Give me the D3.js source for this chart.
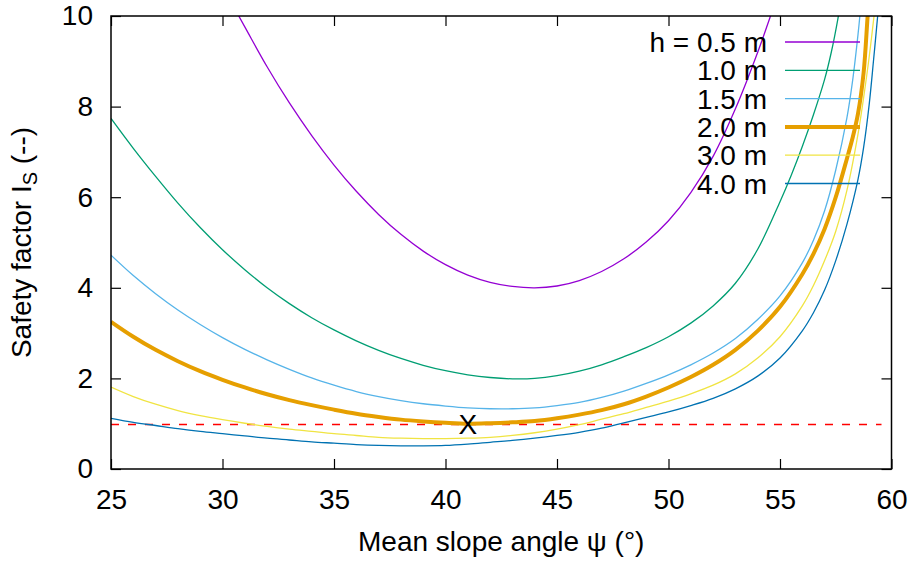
<!DOCTYPE html>
<html>
<head>
<meta charset="utf-8">
<script src="https://cdn.jsdelivr.net/npm/d3@7"></script>
<style>
  body { margin: 0; background: #fff; }
  svg { display: block; font-family: "Liberation Sans", Arial, sans-serif; }
</style>
</head>
<body>
<div id="chart"></div>
<script>
// safety factor curves (psi in degrees, Is dimensionless)
var psiH05 = [30, 31, 32, 33, 34, 35, 36, 37, 38, 39, 40, 41, 42, 43, 44, 45, 46, 47, 48, 49, 50, 51, 52, 53, 54, 54.7, 55.2];
var isH05 = [10.65, 9.76, 8.88, 8.08, 7.36, 6.71, 6.13, 5.62, 5.18, 4.81, 4.51, 4.28, 4.12, 4.03, 4.0, 4.04, 4.16, 4.36, 4.64, 5.01, 5.48, 6.1, 6.9, 7.95, 9.2, 10.18, 10.9];

var psiH10 = [25, 26, 27, 28, 29, 30, 31, 32, 33, 34, 35, 36, 37, 38, 39, 40, 41, 42, 43, 44, 45, 46, 47, 48, 49, 50, 51, 52, 53, 54, 55, 55.5, 56, 56.5, 57, 57.3, 57.6, 57.8];
var isH10 = [7.74, 7.08, 6.46, 5.87, 5.33, 4.84, 4.40, 4.00, 3.65, 3.34, 3.07, 2.83, 2.62, 2.44, 2.29, 2.17, 2.08, 2.02, 1.99, 2.0, 2.06, 2.16, 2.3, 2.48, 2.68, 2.92, 3.22, 3.6, 4.1, 4.85, 5.9, 6.48, 7.12, 7.82, 8.6, 9.2, 9.95, 10.55];

var psiH15 = [25, 26, 27, 28, 29, 30, 31, 32, 33, 34, 35, 36, 37, 38, 39, 40, 41, 42, 43, 44, 45, 46, 47, 48, 49, 50, 51, 52, 53, 54, 55, 56, 56.5, 57, 57.5, 58, 58.25, 58.5, 58.6];
var isH15 = [4.72, 4.27, 3.87, 3.51, 3.19, 2.9, 2.64, 2.41, 2.2, 2.01, 1.85, 1.71, 1.6, 1.51, 1.44, 1.39, 1.35, 1.33, 1.33, 1.35, 1.40, 1.47, 1.58, 1.72, 1.89, 2.08, 2.3, 2.56, 2.88, 3.3, 3.82, 4.55, 5.05, 5.7, 6.6, 7.75, 8.55, 9.6, 10.1];

var psiH20 = [25, 26, 27, 28, 29, 30, 31, 32, 33, 34, 35, 36, 37, 38, 39, 40, 41, 42, 43, 44, 45, 46, 47, 48, 49, 50, 51, 52, 53, 54, 55, 56, 56.5, 57, 57.5, 58, 58.25, 58.5, 58.75, 58.93, 59.05];
var isH20 = [3.25, 2.92, 2.63, 2.38, 2.16, 1.97, 1.80, 1.65, 1.52, 1.41, 1.31, 1.22, 1.15, 1.09, 1.05, 1.02, 1.0, 1.01, 1.03, 1.06, 1.12, 1.2, 1.3, 1.43, 1.6, 1.8, 2.03, 2.3, 2.63, 3.05, 3.58, 4.3, 4.75, 5.3, 6.0, 6.85, 7.3, 7.85, 8.75, 10.0, 10.8];

var psiH30 = [25, 26, 27, 28, 29, 30, 31, 32, 33, 34, 35, 36, 37, 38, 39, 40, 41, 42, 43, 44, 45, 46, 47, 48, 49, 50, 51, 52, 53, 54, 55, 56, 56.5, 57, 57.5, 58, 58.5, 58.75, 59, 59.26, 59.4];
var isH30 = [1.81, 1.6, 1.43, 1.29, 1.18, 1.09, 1.01, 0.94, 0.88, 0.83, 0.78, 0.74, 0.70, 0.68, 0.67, 0.67, 0.68, 0.7, 0.74, 0.8, 0.88, 0.98, 1.1, 1.22, 1.36, 1.5, 1.66, 1.85, 2.1, 2.45, 2.92, 3.6, 4.05, 4.6, 5.25, 6.15, 7.4, 8.2, 9.1, 10.2, 10.9];

var psiH40 = [25, 26, 27, 28, 29, 30, 31, 32, 33, 34, 35, 36, 37, 38, 39, 40, 41, 42, 43, 44, 45, 46, 47, 48, 49, 50, 51, 52, 53, 54, 55, 56, 56.5, 57, 57.5, 58, 58.5, 58.75, 59, 59.2, 59.38, 59.5];
var isH40 = [1.12, 1.03, 0.96, 0.89, 0.83, 0.78, 0.73, 0.68, 0.64, 0.6, 0.57, 0.54, 0.52, 0.51, 0.51, 0.52, 0.55, 0.59, 0.63, 0.68, 0.74, 0.81, 0.9, 1.02, 1.14, 1.26, 1.4, 1.56, 1.77, 2.05, 2.45, 3.05, 3.45, 3.95, 4.6, 5.4, 6.4, 7.1, 8.05, 9.05, 10.0, 10.7];

var seriesLabels = ["h = 0.5 m", "1.0 m", "1.5 m", "2.0 m", "3.0 m", "4.0 m"];
var seriesColors = ["#9400d3", "#009e73", "#56b4e9", "#e69f00", "#f0e442", "#0072b2"];
var seriesWidths = [1.3, 1.3, 1.3, 4, 1.3, 1.3];
var seriesPsi = [psiH05, psiH10, psiH15, psiH20, psiH30, psiH40];
var seriesIs = [isH05, isH10, isH15, isH20, isH30, isH40];

var xTicks = [25, 30, 35, 40, 45, 50, 55, 60];
var yTicks = [0, 2, 4, 6, 8, 10];
var limitIs = 1.0;
var markPoint = { psi: 41, is: 1.0, label: "X" };

var margin = { top: 16, right: 21.5, bottom: 94, left: 111 },
    width = 913 - margin.left - margin.right,
    height = 563 - margin.top - margin.bottom;
var fontSize = 28;

var svg = d3.select("#chart").append("svg")
    .attr("width", 913)
    .attr("height", 563)
    .append("g")
    .attr("transform", "translate(" + margin.left + "," + margin.top + ")");

var x = d3.scaleLinear().domain([25, 60]).range([0, width]);
var y = d3.scaleLinear().domain([0, 10]).range([height, 0]);

svg.append("clipPath").attr("id", "plotClip")
    .append("rect").attr("width", width).attr("height", height);

// axes, ticks pointing inward, mirrored on top and right
var xAxis = d3.axisBottom(x).tickValues(xTicks).tickSizeInner(-10).tickSizeOuter(0).tickPadding(20);
var yAxis = d3.axisLeft(y).tickValues(yTicks).tickSizeInner(-10).tickSizeOuter(0).tickPadding(18);

svg.append("g")
    .attr("class", "x axis")
    .attr("transform", "translate(0," + height + ")")
    .call(xAxis);
svg.append("g")
    .attr("class", "y axis")
    .call(yAxis);
svg.append("g")
    .attr("class", "x2 axis")
    .call(d3.axisTop(x).tickValues(xTicks).tickSizeInner(-10).tickSizeOuter(0).tickFormat(""));
svg.append("g")
    .attr("class", "y2 axis")
    .attr("transform", "translate(" + width + ",0)")
    .call(d3.axisRight(y).tickValues(yTicks).tickSizeInner(-10).tickSizeOuter(0).tickFormat(""));

svg.selectAll(".axis path").remove();
svg.selectAll(".axis line").attr("stroke", "#000").attr("stroke-width", 1.2);
svg.selectAll(".axis text")
    .attr("fill", "#000")
    .style("font-size", fontSize + "px")
    .style("font-family", "'Liberation Sans', Arial, sans-serif");

// threshold line Is = 1
svg.append("line")
    .attr("x1", x(25)).attr("x2", x(60) - 10)
    .attr("y1", Math.round(y(limitIs)) + 0.5).attr("y2", Math.round(y(limitIs)) + 0.5)
    .attr("stroke", "#ff0000")
    .attr("stroke-width", 1.3)
    .attr("stroke-dasharray", "8,9");

var line = d3.line()
    .x(d => x(d[0]))
    .y(d => y(d[1]))
    .curve(d3.curveCatmullRom.alpha(0.5));

var curves = svg.append("g").attr("clip-path", "url(#plotClip)");
seriesPsi.forEach((psi, i) => {
    curves.append("path")
        .datum(psi.map((p, j) => [p, seriesIs[i][j]]))
        .attr("fill", "none")
        .attr("stroke", seriesColors[i])
        .attr("stroke-width", seriesWidths[i])
        .attr("d", line);
});

// marker for h = 2.0 m minimum
svg.append("text")
    .attr("x", x(markPoint.psi))
    .attr("y", y(markPoint.is))
    .attr("dy", "0.36em")
    .attr("text-anchor", "middle")
    .style("font-size", fontSize + "px")
    .text(markPoint.label);

// legend
var legend = svg.append("g").attr("transform", "translate(" + (x(55) - 13) + ",0)");
seriesLabels.forEach((lab, i) => {
    var ly = 26 + i * 28.3;
    legend.append("text")
        .attr("x", 0)
        .attr("y", ly)
        .attr("dy", "0.36em")
        .attr("text-anchor", "end")
        .style("font-size", fontSize + "px")
        .text(lab);
    legend.append("line")
        .attr("x1", 18).attr("x2", 93)
        .attr("y1", ly).attr("y2", ly)
        .attr("stroke", seriesColors[i])
        .attr("stroke-width", seriesWidths[i]);
});

// frame
svg.append("rect")
    .attr("width", width)
    .attr("height", height)
    .attr("fill", "none")
    .attr("stroke", "#000")
    .attr("stroke-width", 1.5);

// axis titles
svg.append("text")
    .attr("x", width / 2)
    .attr("y", height + 82)
    .attr("text-anchor", "middle")
    .style("font-size", fontSize + "px")
    .text("Mean slope angle ψ (°)");

var ylab = svg.append("text")
    .attr("transform", "translate(" + (31 - margin.left) + "," + (height / 2) + ") rotate(-90)")
    .attr("text-anchor", "middle")
    .style("font-size", fontSize + "px");
ylab.append("tspan").text("Safety factor I");
ylab.append("tspan").attr("dy", 6).style("font-size", "20px").text("S");
ylab.append("tspan").attr("dy", -6).text(" (--)");
</script>
</body>
</html>
